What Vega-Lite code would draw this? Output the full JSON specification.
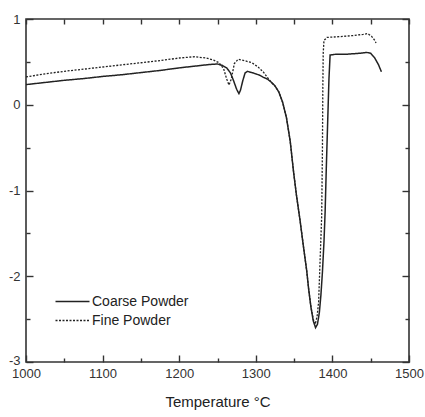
{
  "$schema": "https://vega.github.io/schema/vega-lite/v6.json",
  "autosize": {"type": "none"},
  "padding": {"left": 26, "top": 19, "right": 16, "bottom": 55},
  "width": 383,
  "height": 343,
  "background": "white",
  "config": {
    "view": {"stroke": "#333", "strokeWidth": 1.6},
    "axis": {"labelFont": "Liberation Sans", "titleFont": "Liberation Sans", "labelColor": "#333", "titleColor": "#222", "tickColor": "#333", "tickWidth": 1.4, "grid": false, "domain": false, "labelFlush": false}
  },
  "data": {"values": [
    {"s": "Coarse Powder", "T": 1000, "v": 0.235},
    {"s": "Coarse Powder", "T": 1025, "v": 0.26},
    {"s": "Coarse Powder", "T": 1050, "v": 0.285},
    {"s": "Coarse Powder", "T": 1075, "v": 0.305},
    {"s": "Coarse Powder", "T": 1100, "v": 0.33},
    {"s": "Coarse Powder", "T": 1125, "v": 0.35},
    {"s": "Coarse Powder", "T": 1150, "v": 0.375},
    {"s": "Coarse Powder", "T": 1175, "v": 0.4},
    {"s": "Coarse Powder", "T": 1200, "v": 0.43},
    {"s": "Coarse Powder", "T": 1220, "v": 0.45},
    {"s": "Coarse Powder", "T": 1240, "v": 0.47},
    {"s": "Coarse Powder", "T": 1250, "v": 0.475},
    {"s": "Coarse Powder", "T": 1256, "v": 0.46},
    {"s": "Coarse Powder", "T": 1262, "v": 0.43},
    {"s": "Coarse Powder", "T": 1267, "v": 0.37},
    {"s": "Coarse Powder", "T": 1271, "v": 0.28},
    {"s": "Coarse Powder", "T": 1275, "v": 0.18},
    {"s": "Coarse Powder", "T": 1278, "v": 0.13},
    {"s": "Coarse Powder", "T": 1280, "v": 0.17},
    {"s": "Coarse Powder", "T": 1283, "v": 0.28},
    {"s": "Coarse Powder", "T": 1286, "v": 0.37},
    {"s": "Coarse Powder", "T": 1289, "v": 0.39},
    {"s": "Coarse Powder", "T": 1295, "v": 0.375},
    {"s": "Coarse Powder", "T": 1300, "v": 0.36},
    {"s": "Coarse Powder", "T": 1305, "v": 0.345},
    {"s": "Coarse Powder", "T": 1310, "v": 0.32},
    {"s": "Coarse Powder", "T": 1315, "v": 0.3},
    {"s": "Coarse Powder", "T": 1320, "v": 0.265},
    {"s": "Coarse Powder", "T": 1325, "v": 0.22},
    {"s": "Coarse Powder", "T": 1330, "v": 0.15},
    {"s": "Coarse Powder", "T": 1335, "v": 0.03},
    {"s": "Coarse Powder", "T": 1340, "v": -0.15},
    {"s": "Coarse Powder", "T": 1345, "v": -0.43},
    {"s": "Coarse Powder", "T": 1349, "v": -0.76},
    {"s": "Coarse Powder", "T": 1353, "v": -1.05},
    {"s": "Coarse Powder", "T": 1357.7, "v": -1.344},
    {"s": "Coarse Powder", "T": 1362, "v": -1.64},
    {"s": "Coarse Powder", "T": 1366.4, "v": -1.93},
    {"s": "Coarse Powder", "T": 1369, "v": -2.15},
    {"s": "Coarse Powder", "T": 1372, "v": -2.36},
    {"s": "Coarse Powder", "T": 1375, "v": -2.52},
    {"s": "Coarse Powder", "T": 1378, "v": -2.6},
    {"s": "Coarse Powder", "T": 1380.5, "v": -2.56},
    {"s": "Coarse Powder", "T": 1383, "v": -2.42},
    {"s": "Coarse Powder", "T": 1385, "v": -2.22},
    {"s": "Coarse Powder", "T": 1387, "v": -1.95},
    {"s": "Coarse Powder", "T": 1389, "v": -1.6},
    {"s": "Coarse Powder", "T": 1390.5, "v": -1.25},
    {"s": "Coarse Powder", "T": 1392, "v": -0.75},
    {"s": "Coarse Powder", "T": 1394, "v": -0.15},
    {"s": "Coarse Powder", "T": 1395.5, "v": 0.3},
    {"s": "Coarse Powder", "T": 1397, "v": 0.58},
    {"s": "Coarse Powder", "T": 1405, "v": 0.59},
    {"s": "Coarse Powder", "T": 1420, "v": 0.59},
    {"s": "Coarse Powder", "T": 1435, "v": 0.6},
    {"s": "Coarse Powder", "T": 1445, "v": 0.61},
    {"s": "Coarse Powder", "T": 1450, "v": 0.6},
    {"s": "Coarse Powder", "T": 1455, "v": 0.55},
    {"s": "Coarse Powder", "T": 1460, "v": 0.47},
    {"s": "Coarse Powder", "T": 1464, "v": 0.385},
    {"s": "Fine Powder", "T": 1000, "v": 0.325},
    {"s": "Fine Powder", "T": 1025, "v": 0.36},
    {"s": "Fine Powder", "T": 1050, "v": 0.39},
    {"s": "Fine Powder", "T": 1075, "v": 0.415},
    {"s": "Fine Powder", "T": 1100, "v": 0.44},
    {"s": "Fine Powder", "T": 1125, "v": 0.465},
    {"s": "Fine Powder", "T": 1150, "v": 0.49},
    {"s": "Fine Powder", "T": 1175, "v": 0.515},
    {"s": "Fine Powder", "T": 1200, "v": 0.545},
    {"s": "Fine Powder", "T": 1220, "v": 0.56},
    {"s": "Fine Powder", "T": 1235, "v": 0.545},
    {"s": "Fine Powder", "T": 1245, "v": 0.52},
    {"s": "Fine Powder", "T": 1252, "v": 0.49},
    {"s": "Fine Powder", "T": 1258, "v": 0.42},
    {"s": "Fine Powder", "T": 1262, "v": 0.3},
    {"s": "Fine Powder", "T": 1265, "v": 0.23},
    {"s": "Fine Powder", "T": 1268, "v": 0.3},
    {"s": "Fine Powder", "T": 1272, "v": 0.48},
    {"s": "Fine Powder", "T": 1277, "v": 0.53},
    {"s": "Fine Powder", "T": 1285, "v": 0.515},
    {"s": "Fine Powder", "T": 1295, "v": 0.49},
    {"s": "Fine Powder", "T": 1303, "v": 0.44},
    {"s": "Fine Powder", "T": 1310, "v": 0.38},
    {"s": "Fine Powder", "T": 1315, "v": 0.32},
    {"s": "Fine Powder", "T": 1320, "v": 0.265},
    {"s": "Fine Powder", "T": 1325, "v": 0.22},
    {"s": "Fine Powder", "T": 1330, "v": 0.15},
    {"s": "Fine Powder", "T": 1335, "v": 0.03},
    {"s": "Fine Powder", "T": 1340, "v": -0.15},
    {"s": "Fine Powder", "T": 1345, "v": -0.43},
    {"s": "Fine Powder", "T": 1349, "v": -0.76},
    {"s": "Fine Powder", "T": 1353, "v": -1.05},
    {"s": "Fine Powder", "T": 1357.7, "v": -1.344},
    {"s": "Fine Powder", "T": 1362, "v": -1.64},
    {"s": "Fine Powder", "T": 1366.4, "v": -1.93},
    {"s": "Fine Powder", "T": 1369, "v": -2.15},
    {"s": "Fine Powder", "T": 1372, "v": -2.36},
    {"s": "Fine Powder", "T": 1375, "v": -2.5},
    {"s": "Fine Powder", "T": 1377.5, "v": -2.56},
    {"s": "Fine Powder", "T": 1380, "v": -2.47},
    {"s": "Fine Powder", "T": 1382, "v": -2.3},
    {"s": "Fine Powder", "T": 1384, "v": -1.8},
    {"s": "Fine Powder", "T": 1386, "v": -1.3},
    {"s": "Fine Powder", "T": 1387, "v": -0.5},
    {"s": "Fine Powder", "T": 1387.5, "v": 0.2},
    {"s": "Fine Powder", "T": 1388, "v": 0.6},
    {"s": "Fine Powder", "T": 1389, "v": 0.75},
    {"s": "Fine Powder", "T": 1393, "v": 0.785},
    {"s": "Fine Powder", "T": 1410, "v": 0.795},
    {"s": "Fine Powder", "T": 1425, "v": 0.805},
    {"s": "Fine Powder", "T": 1440, "v": 0.82},
    {"s": "Fine Powder", "T": 1446, "v": 0.83},
    {"s": "Fine Powder", "T": 1451, "v": 0.8},
    {"s": "Fine Powder", "T": 1455, "v": 0.755},
    {"s": "Fine Powder", "T": 1457, "v": 0.72}
  ]},
  "layer": [
    {
      "transform": [{"filter": "datum.s === 'Coarse Powder'"}],
      "mark": {"type": "line", "color": "#222", "strokeWidth": 1.5},
      "encoding": {
        "x": {"field": "T", "type": "quantitative", "scale": {"domain": [1000, 1500], "nice": false, "zero": false},
          "axis": {"orient": "bottom", "values": [1000,1050,1100,1150,1200,1250,1300,1350,1400,1450,1500], "format": "d",
            "labelExpr": "datum.value % 100 === 0 ? datum.label : ''", "labelFontSize": 13, "labelPadding": 12,
            "tickSize": {"condition": {"test": "datum.value % 100 === 0", "value": -7}, "value": -4},
            "title": "Temperature °C", "titleFontSize": 15, "titleFontWeight": "normal", "titlePadding": 14}},
        "y": {"field": "v", "type": "quantitative", "scale": {"domain": [-3, 1], "nice": false, "zero": false},
          "axis": {"orient": "left", "values": [-3,-2.5,-2,-1.5,-1,-0.5,0,0.5,1],
            "labelExpr": "datum.value % 1 === 0 ? '' + datum.value : ''", "labelFontSize": 13, "labelPadding": 13,
            "labelOffset": {"condition": {"test": "datum.value === -3", "value": -2}, "value": 0},
            "tickSize": {"condition": {"test": "datum.value % 1 === 0", "value": -7}, "value": -4},
            "title": null}},
        "strokeDash": {"field": "s", "type": "nominal",
          "scale": {"domain": ["Coarse Powder", "Fine Powder"], "range": [[1, 0], [2, 1.5]]},
          "legend": {"orient": "none", "legendX": 37, "legendY": 273, "title": null, "symbolType": "M-2,0H2", "symbolSize": 289,
            "symbolStrokeColor": "#222", "symbolStrokeWidth": 1.3, "labelFont": "Liberation Sans", "labelFontSize": 14, "labelColor": "#222",
            "labelOffset": 10, "rowPadding": 2, "padding": 0}}
      }
    },
    {
      "transform": [{"filter": "datum.s === 'Fine Powder'"}],
      "mark": {"type": "line", "color": "#222", "strokeWidth": 1.3},
      "encoding": {
        "x": {"field": "T", "type": "quantitative", "scale": {"domain": [1000, 1500], "nice": false, "zero": false},
          "axis": {"orient": "top", "values": [1000,1050,1100,1150,1200,1250,1300,1350,1400,1450,1500], "labels": false,
            "tickSize": -5, "title": null}},
        "y": {"field": "v", "type": "quantitative", "scale": {"domain": [-3, 1], "nice": false, "zero": false},
          "axis": {"orient": "right", "values": [-3,-2.5,-2,-1.5,-1,-0.5,0,0.5,1], "labels": false,
            "tickSize": {"condition": {"test": "datum.value % 1 === 0", "value": -7}, "value": -4},
            "title": null}},
        "strokeDash": {"field": "s", "type": "nominal",
          "scale": {"domain": ["Coarse Powder", "Fine Powder"], "range": [[1, 0], [2, 1.5]]}}
      }
    }
  ],
  "resolve": {"axis": {"x": "independent", "y": "independent"}}
}
